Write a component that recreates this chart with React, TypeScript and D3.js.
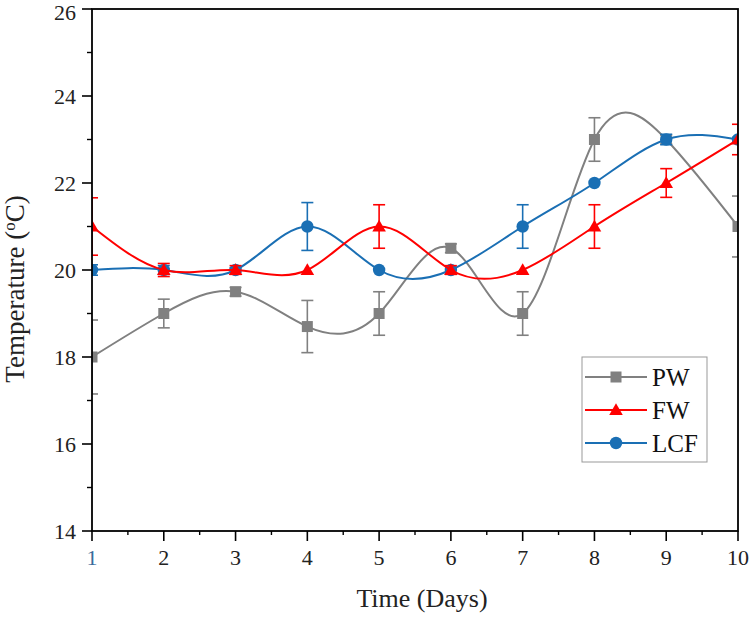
import React from "react";
import * as d3 from "d3";

// daily readings for the three treatments
const days = [1, 2, 3, 4, 5, 6, 7, 8, 9, 10];
const pw = [18, 19, 19.5, 18.7, 19, 20.5, 19, 23, 23, 21];
const pwErr = [0.85, 0.33, 0.1, 0.6, 0.5, 0.1, 0.5, 0.5, 0.1, 0.7];
const fw = [21, 20, 20, 20, 21, 20, 20, 21, 22, 23];
const fwErr = [0.66, 0.15, 0.1, 0, 0.5, 0.1, 0, 0.5, 0.33, 0.35];
const lcf = [20, 20, 20, 21, 20, 20, 21, 22, 23, 23];
const lcfErr = [0.12, 0.1, 0.05, 0.55, 0, 0, 0.5, 0, 0.12, 0.05];
const yTicks = [14, 16, 18, 20, 22, 24, 26];

const W = 750;
const H = 617;
const M = { left: 92, right: 738, top: 9, bottom: 531 };
const FONT = "'Liberation Serif', 'Times New Roman', serif";

type Series = { name: string; values: number[]; err: number[]; color: string; marker: string };

const series: Series[] = [
  { name: "PW", values: pw, err: pwErr, color: "#808080", marker: "square" },
  { name: "LCF", values: lcf, err: lcfErr, color: "#1a6fb4", marker: "circle" },
  { name: "FW", values: fw, err: fwErr, color: "#ff0000", marker: "triangle" },
];
const legendOrder = ["PW", "FW", "LCF"];

const x = d3.scaleLinear().domain([1, 10]).range([M.left, M.right]);
const y = d3.scaleLinear().domain([14, 26]).range([M.bottom, M.top]);

const Marker = ({ kind, cx, cy, color }: { kind: string; cx: number; cy: number; color: string }) => {
  if (kind === "square") return <rect x={cx - 5.5} y={cy - 5.5} width={11} height={11} fill={color} />;
  if (kind === "circle") return <circle cx={cx} cy={cy} r={6.2} fill={color} />;
  const p = d3.symbol(d3.symbolTriangle, 80)();
  return <path d={p || ""} transform={`translate(${cx},${cy + 1})`} fill={color} />;
};

export default function App() {
  const line = d3
    .line<number>()
    .x((_, i) => x(days[i]))
    .y((d) => y(d))
    .curve(d3.curveNatural);

  const xMinor = d3.range(1.5, 10, 1);
  const yMinor = d3.range(15, 26, 2);

  return (
    <svg width={W} height={H} style={{ position: "absolute", left: 0, top: 0, background: "#fff" }}>
      <defs>
        <clipPath id="plot">
          <rect x={M.left} y={M.top} width={M.right - M.left} height={M.bottom - M.top} />
        </clipPath>
      </defs>

      <g clipPath="url(#plot)">
        {series.map((s) => (
          <g key={s.name}>
            <path d={line(s.values) || ""} fill="none" stroke={s.color} strokeWidth={2} />
            {s.values.map((v, i) =>
              s.err[i] > 0 ? (
                <g key={i} stroke={s.color} strokeWidth={1.6}>
                  <line x1={x(days[i])} x2={x(days[i])} y1={y(v - s.err[i])} y2={y(v + s.err[i])} />
                  <line x1={x(days[i]) - 6} x2={x(days[i]) + 6} y1={y(v + s.err[i])} y2={y(v + s.err[i])} />
                  <line x1={x(days[i]) - 6} x2={x(days[i]) + 6} y1={y(v - s.err[i])} y2={y(v - s.err[i])} />
                </g>
              ) : null
            )}
            {s.values.map((v, i) => (
              <Marker key={i} kind={s.marker} cx={x(days[i])} cy={y(v)} color={s.color} />
            ))}
          </g>
        ))}
      </g>

      {/* frame */}
      <rect x={M.left} y={M.top} width={M.right - M.left} height={M.bottom - M.top} fill="none" stroke="#000" strokeWidth={1.8} />

      {/* y axis ticks; the top label is kept inside the page */}
      {yTicks.map((t) => (
        <g key={t}>
          <line x1={M.left - 10} x2={M.left} y1={y(t)} y2={y(t)} stroke="#000" strokeWidth={1.6} />
          <text x={M.left - 16} y={Math.max(y(t) + 7.5, 20)} textAnchor="end" fontFamily={FONT} fontSize={22} fill="#222">
            {t}
          </text>
        </g>
      ))}
      {yMinor.map((t) => (
        <line key={t} x1={M.left - 5} x2={M.left} y1={y(t)} y2={y(t)} stroke="#000" strokeWidth={1.4} />
      ))}

      {/* x axis ticks */}
      {days.map((d) => (
        <g key={d}>
          <line x1={x(d)} x2={x(d)} y1={M.bottom} y2={M.bottom + 10} stroke="#000" strokeWidth={1.6} />
          <text x={x(d)} y={M.bottom + 34} textAnchor="middle" fontFamily={FONT} fontSize={22} fill={d === 1 ? "#3a6a9a" : "#222"}>
            {d}
          </text>
        </g>
      ))}
      {xMinor.map((d) => (
        <line key={d} x1={x(d)} x2={x(d)} y1={M.bottom} y2={M.bottom + 4} stroke="#000" strokeWidth={1.4} />
      ))}

      {/* axis titles */}
      <text x={422} y={607} textAnchor="middle" fontFamily={FONT} fontSize={26} fill="#222">
        Time (Days)
      </text>
      <text transform="translate(24,289) rotate(-90)" textAnchor="middle" fontFamily={FONT} fontSize={27} fill="#222">
        Temperature (<tspan dy={-9} fontSize={17}>o</tspan>
        <tspan dy={9}>C)</tspan>
      </text>

      {/* legend */}
      <g transform="translate(582,357)">
        <rect x={0} y={0} width={125} height={105} fill="#fff" stroke="#999" strokeWidth={1} />
        {legendOrder.map((name, i) => {
          const s = series.find((d) => d.name === name)!;
          const cy = 20 + i * 33;
          return (
            <g key={name}>
              <line x1={3} x2={65} y1={cy} y2={cy} stroke={s.color} strokeWidth={2} />
              <Marker kind={s.marker} cx={34} cy={cy} color={s.color} />
              <text x={70} y={cy + 9} fontFamily={FONT} fontSize={25} fill="#111">
                {name}
              </text>
            </g>
          );
        })}
      </g>
    </svg>
  );
}
